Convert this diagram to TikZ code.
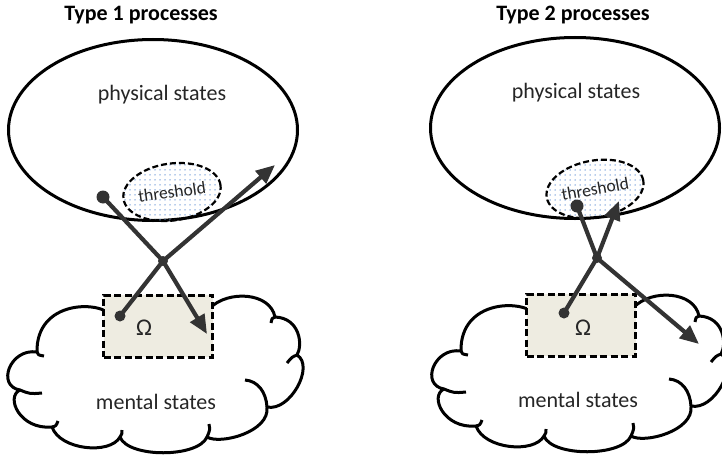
\documentclass[tikz,border=0pt]{standalone}
\usepackage{fontspec}
\setmainfont{Carlito}
\usetikzlibrary{shapes.geometric,arrows.meta,patterns.meta}
\definecolor{omegafill}{HTML}{EEECE1}
\definecolor{arrowgray}{HTML}{333333}
\definecolor{textgray}{HTML}{262626}
\definecolor{threshdots}{HTML}{6F9AD6}
% cloud of mental states, drawn at the left position and shifted by #1
\newcommand{\mentalcloud}[1]{%
  \begin{scope}[shift={#1}]
    \draw[cloudline, fill=white] (112,316) .. controls (100,300) and (36,300) .. (37,352)
      .. controls (10,348) and (-4,386) .. (20,390)
      .. controls (5,397) and (20,430) .. (52,427)
      .. controls (60,450) and (110,455) .. (120,437)
      .. controls (128,458) and (198,458) .. (207,437)
      .. controls (220,445) and (270,432) .. (267,407)
      .. controls (290,412) and (315,366) .. (297,355)
      .. controls (303,345) and (300,318) .. (275,317)
      .. controls (270,292) and (228,290) .. (210,308)
      -- cycle;
    \draw[cloudline] (37,352) .. controls (38,355) .. (44,356);
    \draw[cloudline] (20,390) .. controls (30,394) .. (42,393);
    \draw[cloudline] (52,427) .. controls (56,426) .. (58,421);
    \draw[cloudline] (120,437) .. controls (122,434) .. (122,430);
    \draw[cloudline] (207,437) .. controls (210,430) .. (209,424);
    \draw[cloudline] (267,407) .. controls (266,392) and (258,381) .. (245,380);
    \draw[cloudline] (297,355) .. controls (292,357) .. (287,363);
    \draw[cloudline] (275,317) .. controls (272,318) .. (271,323);
  \end{scope}}

\begin{document}
\begin{tikzpicture}[x=1pt, y=-1pt,
	 statenode/.style={draw, ellipse, line width=3pt, minimum width=289pt, minimum height=181pt},
	 threshnode/.style={draw, ellipse, line width=2.2pt, dash pattern=on 6pt off 3pt,
	   pattern={Dots[distance=5pt, radius=0.75pt]}, pattern color=threshdots,
	   minimum width=98pt, minimum height=57pt,
	   font=\fontsize{17.5}{19}\selectfont, text=textgray, inner sep=0pt},
	 cloudline/.style={line width=3pt, line join=round},
	 omeganode/.style={draw, fill=omegafill, line width=3pt, dash pattern=on 7pt off 3.5pt,
	   minimum width=109pt, minimum height=62pt},
	 labelnode/.style={font=\fontsize{22}{24}\selectfont, text=textgray},
	 titlenode/.style={font=\fontsize{22}{24}\selectfont\bfseries},
	 procarrow/.style={line width=4.2pt, draw=arrowgray, line join=round,
	   -{Triangle[length=19pt,width=16pt]}},
	 dotnode/.style={circle, fill=arrowgray, inner sep=0pt, minimum size=#1}]
	    \useasboundingbox (0,0) rectangle (722,460);
	    % Type 1
	    \node (title1) at (141,15) [titlenode] {Type 1 processes};
	    \node (phys1) at (153,130) [statenode] {};
	    \node (physlabel1) at (162,95) [labelnode] {physical states};
	    \node (thr1) at (172,192) [threshnode, rotate=8] {threshold};
	    \mentalcloud{(0,0)}
	    \node (mentallabel1) at (156,402) [labelnode] {mental states};
	    \node (omega1) at (158,326) [omeganode] {};
	    \node (omegalabel1) at (144,328) [labelnode, font=\fontsize{24}{26}\selectfont] {Ω};
	    \node (out1) at (103,197) [dotnode=13pt] {};
	    \node (in1) at (120,316) [dotnode=11pt] {};
	    \coordinate (meet1) at (163,261);
	    \coordinate (tipdown1) at (207,334);
	    \coordinate (tipup1) at (275,165);
	    \draw[procarrow] (out1.center) -- (meet1) -- (tipdown1);
	    \draw[procarrow] (in1.center) -- (meet1) -- (tipup1);
	    \node (meetdot1) at (meet1) [dotnode=10pt] {};
	    % Type 2
	    \node (title2) at (573,15) [titlenode] {Type 2 processes};
	    \node (phys2) at (575,128) [statenode] {};
	    \node (physlabel2) at (576,93) [labelnode] {physical states};
	    \node (thr2) at (595,189) [threshnode, rotate=10] {threshold};
	    \mentalcloud{(424,-1)}
	    \node (mentallabel2) at (578,400) [labelnode] {mental states};
	    \node (omega2) at (581,325) [omeganode] {};
	    \node (omegalabel2) at (583,328) [labelnode, font=\fontsize{24}{26}\selectfont] {Ω};
	    \node (out2) at (577,206) [dotnode=13pt] {};
	    \node (in2) at (564,313) [dotnode=11pt] {};
	    \coordinate (meet2) at (597,258);
	    \coordinate (tipdown2) at (699,344);
	    \coordinate (tipup2) at (619,201);
	    \draw[procarrow] (out2.center) -- (meet2) -- (tipdown2);
	    \draw[procarrow] (in2.center) -- (meet2) -- (tipup2);
	    \node (meetdot2) at (meet2) [dotnode=10pt] {};
\end{tikzpicture}
\end{document}
